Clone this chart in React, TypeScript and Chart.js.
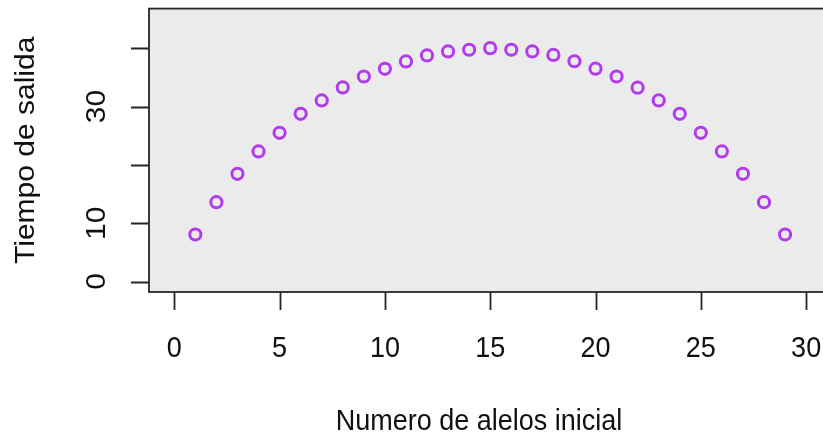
import React, { useEffect, useRef } from "react";
import { Chart, registerables } from "chart.js";

Chart.register(...registerables);

const alelos: number[] = [1,2,3,4,5,6,7,8,9,10,11,12,13,14,15,16,17,18,19,20,21,22,23,24,25,26,27,28,29];
const tiempo: number[] = [8.06,13.6,18.47,22.3,25.5,28.76,31.05,33.28,35.16,36.48,37.74,38.77,39.45,39.74,40.02,39.74,39.45,38.85,37.77,36.5,35.16,33.24,31.05,28.76,25.5,22.3,18.47,13.6,8.06];
const xTicks: number[] = [0, 5, 10, 15, 20, 25, 30];
const xTickLabels: string[] = ["0", "5", "10", "15", "20", "25", "30"];
const yTicks: number[] = [0, 10, 20, 30, 40];
const yTickLabels: string[] = ["0", "10", "", "30", ""];
const xTitle = "Numero de alelos inicial";
const yTitle = "Tiempo de salida";

const FONT = "30px 'Liberation Sans', Arial, sans-serif";
const SX = 0.9;
const TEXT = "#111111";
const LINE = "#262626";

const rPlot = {
  id: "rPlot",
  beforeDraw(chart: any) {
    const { ctx, chartArea: a } = chart;
    ctx.save();
    ctx.fillStyle = "#ffffff";
    ctx.fillRect(0, 0, chart.width, chart.height);
    ctx.fillStyle = "#ebebeb";
    ctx.fillRect(a.left, a.top, a.right - a.left, a.bottom - a.top);
    ctx.restore();
  },
  afterDraw(chart: any) {
    const { ctx, chartArea: a } = chart;
    const xs = chart.scales.x;
    const ys = chart.scales.y;
    ctx.save();
    ctx.strokeStyle = LINE;
    ctx.lineWidth = 1.8;
    ctx.strokeRect(a.left, a.top, a.right - a.left, a.bottom - a.top);
    ctx.beginPath();
    xTicks.forEach((v) => {
      const px = Math.round(xs.getPixelForValue(v)) + 0.5;
      ctx.moveTo(px, a.bottom);
      ctx.lineTo(px, a.bottom + 18);
    });
    yTicks.forEach((v) => {
      const py = Math.round(ys.getPixelForValue(v)) + 0.5;
      ctx.moveTo(a.left, py);
      ctx.lineTo(a.left - 18, py);
    });
    ctx.stroke();

    ctx.fillStyle = TEXT;
    ctx.font = FONT;
    ctx.textAlign = "center";
    ctx.textBaseline = "alphabetic";
    const drawText = (t: string, x: number, y: number, rot: boolean) => {
      ctx.save();
      ctx.translate(x, y);
      ctx.scale(SX, 1);
      if (rot) ctx.rotate(-Math.PI / 2);
      ctx.fillText(t, 0, 0);
      ctx.restore();
    };
    xTicks.forEach((v, i) => {
      drawText(xTickLabels[i], xs.getPixelForValue(v), 357, false);
    });
    yTicks.forEach((v, i) => {
      if (yTickLabels[i]) drawText(yTickLabels[i], 105, ys.getPixelForValue(v), true);
    });
    drawText(xTitle, 479, 430, false);
    drawText(yTitle, 34, (a.top + a.bottom) / 2, true);
    ctx.restore();
  },
};

export default function App() {
  const ref = useRef<HTMLCanvasElement | null>(null);
  useEffect(() => {
    if (!ref.current) return;
    const chart = new Chart(ref.current, {
      type: "scatter",
      data: {
        datasets: [
          {
            data: alelos.map((x, i) => ({ x, y: tiempo[i] })),
            pointStyle: "circle",
            pointRadius: 5.6,
            pointBorderWidth: 3,
            pointBackgroundColor: "rgba(0,0,0,0)",
            pointBorderColor: "#b23aee",
          },
        ],
      },
      options: {
        responsive: false,
        animation: false,
        events: [],
        layout: { padding: { left: 149, top: 7, right: 8, bottom: 142 } },
        plugins: { legend: { display: false }, tooltip: { enabled: false } },
        scales: {
          x: { type: "linear", min: -1.2, max: 31.2, display: false },
          y: { type: "linear", min: -1.8, max: 46.8, display: false },
        },
      },
      plugins: [rPlot],
    });
    return () => chart.destroy();
  }, []);
  return (
    <div style={{ position: "fixed", left: 0, top: 0, width: 823, height: 434, overflow: "hidden", background: "#fff" }}>
      <canvas ref={ref} width={840} height={434} style={{ display: "block", width: 840, height: 434 }} />
    </div>
  );
}
